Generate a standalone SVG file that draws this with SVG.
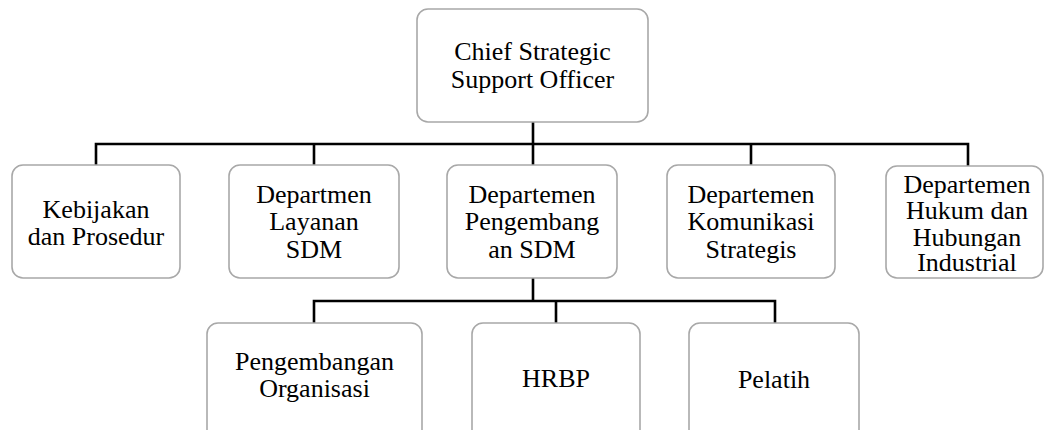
<svg xmlns="http://www.w3.org/2000/svg" width="1046" height="430" viewBox="0 0 1046 430">
<style>
.box{fill:#fff;stroke:#a8a8a8;stroke-width:1.6}
.lbl{font-family:'Liberation Serif','Times New Roman',Times,'DejaVu Serif',serif;font-size:26px;fill:#000;text-anchor:middle}
.con{stroke:#000;stroke-width:2.6;fill:none;stroke-linecap:square}
</style>
<rect width="1046" height="430" fill="#fff"/>
<g id="connectors">
<path class="con" d="M533 122V144M96 165V144H968V165M314 144V165M533 144V165M751 144V165"/>
<path class="con" d="M533 278V301M314 323V301H775V323M556 301V323"/>
</g>
<g id="n-cso">
<rect class="box" x="417" y="9" width="231" height="113" rx="11"/>
<text class="lbl" x="532.5" y="60">Chief Strategic</text>
<text class="lbl" x="532.5" y="88">Support Officer</text>
</g>
<g id="n-kebijakan">
<rect class="box" x="12" y="165" width="168" height="113" rx="11"/>
<text class="lbl" x="96" y="218">Kebijakan</text>
<text class="lbl" x="96" y="245">dan Prosedur</text>
</g>
<g id="n-layanan">
<rect class="box" x="229" y="165" width="170" height="113" rx="11"/>
<text class="lbl" x="314" y="203">Departmen</text>
<text class="lbl" x="314" y="230">Layanan</text>
<text class="lbl" x="314" y="258">SDM</text>
</g>
<g id="n-pengembangan">
<rect class="box" x="447" y="165" width="170" height="113" rx="11"/>
<text class="lbl" x="532" y="203">Departemen</text>
<text class="lbl" x="532" y="230">Pengembang</text>
<text class="lbl" x="532" y="258">an SDM</text>
</g>
<g id="n-komunikasi">
<rect class="box" x="667" y="165" width="168" height="113" rx="11"/>
<text class="lbl" x="751" y="203">Departemen</text>
<text class="lbl" x="751" y="230">Komunikasi</text>
<text class="lbl" x="751" y="258">Strategis</text>
</g>
<g id="n-hukum">
<rect class="box" x="886" y="166" width="157" height="112" rx="11"/>
<text class="lbl" x="967" y="193">Departemen</text>
<text class="lbl" x="967" y="219">Hukum dan</text>
<text class="lbl" x="967" y="246">Hubungan</text>
<text class="lbl" x="967" y="271">Industrial</text>
</g>
<g id="n-organisasi">
<rect class="box" x="207" y="323" width="215" height="130" rx="11"/>
<text class="lbl" x="314.5" y="370">Pengembangan</text>
<text class="lbl" x="314.5" y="397">Organisasi</text>
</g>
<g id="n-hrbp">
<rect class="box" x="472" y="323" width="168" height="130" rx="11"/>
<text class="lbl" x="556" y="387">HRBP</text>
</g>
<g id="n-pelatih">
<rect class="box" x="689" y="323" width="170" height="130" rx="11"/>
<text class="lbl" x="774" y="388">Pelatih</text>
</g>
</svg>
